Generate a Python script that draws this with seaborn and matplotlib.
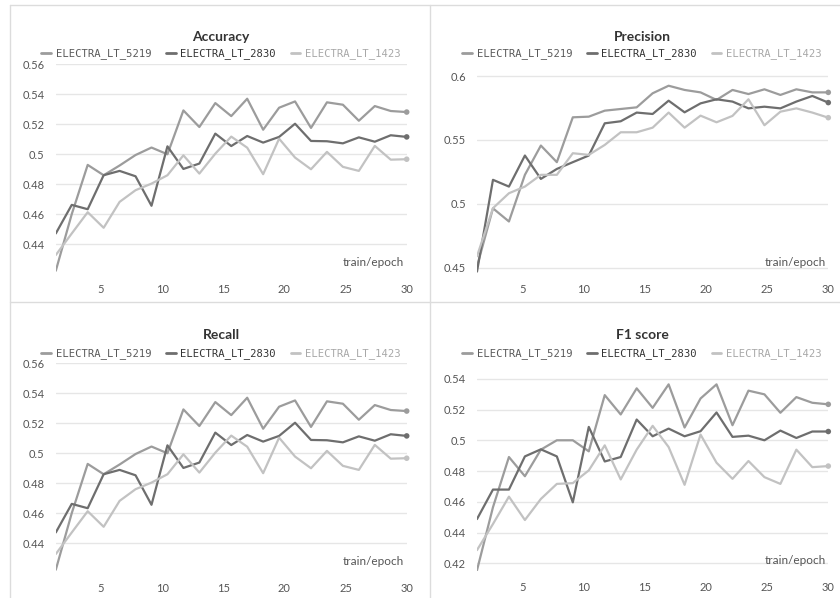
import numpy as np
import pandas as pd
import matplotlib
matplotlib.use("Agg")
import matplotlib.pyplot as plt
from matplotlib.lines import Line2D
from matplotlib.ticker import FuncFormatter
import seaborn as sns

# ---- data -------------------------------------------------------------
runs = ["ELECTRA_LT_5219", "ELECTRA_LT_2830", "ELECTRA_LT_1423"]
epochs = np.arange(1, 24) * 30 / 23  # logged epoch values

acc_5219 = [0.4222, 0.4600, 0.4929, 0.4860, 0.4925, 0.4995, 0.5045, 0.5000, 0.5293, 0.5182, 0.5342, 0.5255,
            0.5371, 0.5164, 0.5311, 0.5353, 0.5176, 0.5347, 0.5331, 0.5224, 0.5322, 0.5289, 0.5282]
acc_2830 = [0.4471, 0.4662, 0.4633, 0.4860, 0.4889, 0.4853, 0.4656, 0.5053, 0.4902, 0.4938, 0.5138, 0.5055,
            0.5122, 0.5078, 0.5116, 0.5204, 0.5089, 0.5087, 0.5073, 0.5113, 0.5084, 0.5127, 0.5116]
acc_1423 = [0.4327, 0.4471, 0.4613, 0.4509, 0.4682, 0.4760, 0.4804, 0.4860, 0.4993, 0.4871, 0.5004, 0.5118,
            0.5044, 0.4867, 0.5104, 0.4978, 0.4900, 0.5016, 0.4916, 0.4889, 0.5056, 0.4964, 0.4967]

prec_5219 = [0.4510, 0.4965, 0.4862, 0.5227, 0.5456, 0.5326, 0.5677, 0.5682, 0.5729, 0.5742, 0.5755, 0.5865,
             0.5924, 0.5891, 0.5872, 0.5813, 0.5891, 0.5859, 0.5896, 0.5852, 0.5896, 0.5872, 0.5872]
prec_2830 = [0.4470, 0.5188, 0.5135, 0.5378, 0.5195, 0.5273, 0.5326, 0.5378, 0.5630, 0.5646, 0.5714, 0.5703,
             0.5807, 0.5716, 0.5786, 0.5818, 0.5800, 0.5747, 0.5760, 0.5747, 0.5800, 0.5844, 0.5792]
prec_1423 = [0.4590, 0.4966, 0.5083, 0.5135, 0.5227, 0.5227, 0.5396, 0.5383, 0.5461, 0.5560, 0.5560, 0.5596,
             0.5714, 0.5596, 0.5690, 0.5638, 0.5688, 0.5818, 0.5615, 0.5721, 0.5747, 0.5714, 0.5674]

rec_5219 = [0.4222, 0.4600, 0.4929, 0.4860, 0.4925, 0.4995, 0.5045, 0.5000, 0.5293, 0.5182, 0.5342, 0.5255,
            0.5371, 0.5164, 0.5311, 0.5353, 0.5176, 0.5347, 0.5331, 0.5224, 0.5322, 0.5289, 0.5282]
rec_2830 = [0.4471, 0.4662, 0.4633, 0.4860, 0.4889, 0.4853, 0.4656, 0.5053, 0.4902, 0.4938, 0.5138, 0.5055,
            0.5122, 0.5078, 0.5116, 0.5204, 0.5089, 0.5087, 0.5073, 0.5113, 0.5084, 0.5127, 0.5116]
rec_1423 = [0.4327, 0.4471, 0.4613, 0.4509, 0.4682, 0.4760, 0.4804, 0.4860, 0.4993, 0.4871, 0.5004, 0.5118,
            0.5044, 0.4867, 0.5104, 0.4978, 0.4900, 0.5016, 0.4916, 0.4889, 0.5056, 0.4964, 0.4967]

f1_5219 = [0.4155, 0.4565, 0.4892, 0.4767, 0.4940, 0.5001, 0.5001, 0.4929, 0.5295, 0.5169, 0.5339, 0.5212,
           0.5365, 0.5084, 0.5273, 0.5365, 0.5099, 0.5324, 0.5300, 0.5180, 0.5282, 0.5245, 0.5235]
f1_2830 = [0.4488, 0.4680, 0.4680, 0.4896, 0.4942, 0.4896, 0.4597, 0.5088, 0.4863, 0.4892, 0.5136, 0.5027,
           0.5077, 0.5027, 0.5060, 0.5182, 0.5023, 0.5031, 0.5001, 0.5064, 0.5016, 0.5058, 0.5058]
f1_1423 = [0.4286, 0.4456, 0.4634, 0.4482, 0.4619, 0.4717, 0.4722, 0.4805, 0.4968, 0.4746, 0.4940, 0.5095,
           0.4957, 0.4711, 0.5038, 0.4855, 0.4750, 0.4866, 0.4761, 0.4717, 0.4940, 0.4826, 0.4833]

x_ticks = [5, 10, 15, 20, 25, 30]

# ---- style ------------------------------------------------------------
sns.set_style("white")
plt.rcParams["font.family"] = ["Lato", "DejaVu Sans"]

line_colors = {runs[0]: "#9c9c9c", runs[1]: "#6e6e6e", runs[2]: "#c2c2c2"}
label_colors = ["#5a5a5a", "#333333", "#a8a8a8"]

W, H = 840, 598
fig = plt.figure(figsize=(W / 100, H / 100), dpi=100)
fig.patch.set_facecolor("white")


def box(left, right, top, bottom):
    return [left / W, 1 - bottom / H, (right - left) / W, (bottom - top) / H]


panels = [
    dict(title="Accuracy", series=[acc_5219, acc_2830, acc_1423],
         ylim=(0.4207, 0.5603), yticks=[0.44, 0.46, 0.48, 0.50, 0.52, 0.54, 0.56],
         rect=(55.8, 406.7, 64, 273), title_y=37, legend_y=54, cx=221),
    dict(title="Precision", series=[prec_5219, prec_2830, prec_1423],
         ylim=(0.4459, 0.6094), yticks=[0.45, 0.50, 0.55, 0.60],
         rect=(477, 828.3, 64, 273), title_y=37, legend_y=54, cx=642),
    dict(title="Recall", series=[rec_5219, rec_2830, rec_1423],
         ylim=(0.4207, 0.5603), yticks=[0.44, 0.46, 0.48, 0.50, 0.52, 0.54, 0.56],
         rect=(55.8, 406.7, 363, 572), title_y=335, legend_y=354, cx=221),
    dict(title="F1 score", series=[f1_5219, f1_2830, f1_1423],
         ylim=(0.4150, 0.5491), yticks=[0.42, 0.44, 0.46, 0.48, 0.50, 0.52, 0.54],
         rect=(477, 828.3, 365, 571), title_y=335, legend_y=354, cx=642),
]

fmt = FuncFormatter(lambda v, _: f"{v:g}")

for p in panels:
    left, right, top, bottom = p["rect"]
    ax = fig.add_axes(box(left, right, top, bottom))

    df = pd.concat(
        [pd.DataFrame({"epoch": epochs, "value": vals, "run": name})
         for name, vals in zip(runs, p["series"])],
        ignore_index=True,
    )
    sns.lineplot(data=df, x="epoch", y="value", hue="run", hue_order=runs,
                 palette=line_colors, linewidth=1.6, ax=ax, legend=False)
    last = df[df["epoch"] == df["epoch"].max()]
    sns.scatterplot(data=last, x="epoch", y="value", hue="run", hue_order=runs,
                    palette=line_colors, s=16, linewidth=0, ax=ax, legend=False,
                    zorder=5, clip_on=False)

    ax.set_xlim(epochs[0], 30)
    ax.set_ylim(*p["ylim"])
    ax.set_xticks(x_ticks)
    ax.set_yticks(p["yticks"])
    ax.yaxis.set_major_formatter(fmt)
    ax.set_xlabel("")
    ax.set_ylabel("")
    for s in ax.spines.values():
        s.set_visible(False)
    ax.yaxis.grid(True, color="#e6e6e6", linewidth=1)
    ax.xaxis.grid(False)
    ax.tick_params(axis="y", length=0, labelsize=8, labelcolor="#555555", pad=8)
    ax.tick_params(axis="x", direction="in", length=6, width=1, color="#cfcfcf",
                   labelsize=8, labelcolor="#555555", pad=8)

    ax.text(0.993, 0.05, "train/epoch", transform=ax.transAxes, ha="right",
            va="center", fontsize=8.5, color="#555555")

    # title and legend sit above the plot area
    fig.text(p["cx"] / W, 1 - p["title_y"] / H, p["title"], ha="center",
             va="center", fontsize=10, fontweight="bold", color="#333333")
    handles = [Line2D([0], [0], color=line_colors[r], lw=2) for r in runs]
    leg = ax.legend(handles, runs, loc="center",
                    bbox_to_anchor=(p["cx"] / W, 1 - p["legend_y"] / H),
                    bbox_transform=fig.transFigure, ncol=3, frameon=False,
                    prop={"family": "DejaVu Sans Mono", "size": 7.6},
                    handlelength=0.9, handletextpad=0.45, columnspacing=1.4,
                    borderpad=0, borderaxespad=0)
    for t, c in zip(leg.get_texts(), label_colors):
        t.set_color(c)

# panel frames
frame = dict(transform=fig.transFigure, color="#dcdcdc", linewidth=1)
fig.add_artist(Line2D([10 / W, 10 / W], [0, 1 - 5 / H], **frame))
fig.add_artist(Line2D([10 / W, 1], [1 - 5 / H, 1 - 5 / H], **frame))
fig.add_artist(Line2D([430.5 / W, 430.5 / W], [0, 1 - 5 / H], **frame))
fig.add_artist(Line2D([10 / W, 1], [1 - 302 / H, 1 - 302 / H], **frame))

fig.savefig("out.png", dpi=100)
